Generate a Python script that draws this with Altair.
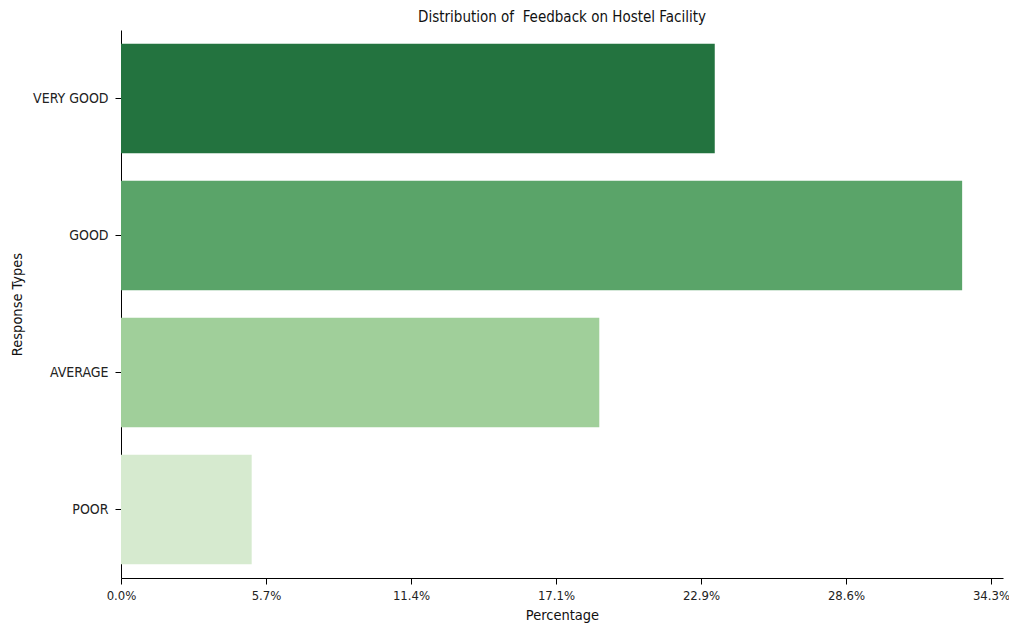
import altair as alt
import pandas as pd

categories = ["VERY GOOD", "GOOD", "AVERAGE", "POOR"]
percentages = [23.4, 33.15, 18.85, 5.15]
colors = ["#23733f", "#5aa469", "#a0cf9a", "#d6eacf"]
tick_values = [0, 5.714, 11.429, 17.143, 22.857, 28.571, 34.286]
title_text = "Distribution of \u00a0Feedback on Hostel Facility"

df = pd.DataFrame({"Response": categories, "Percentage": percentages})

FONT = "DejaVu Sans Condensed"

chart = alt.Chart(df).mark_bar().encode(
    y=alt.Y("Response:N", sort=categories, title="Response Types",
            scale=alt.Scale(paddingInner=0.2, paddingOuter=0.1),
            axis=alt.Axis(labelFont=FONT, labelFontSize=14, labelColor="#222222",
                          titleFont=FONT, titleFontSize=14.5, titleFontWeight="normal",
                          titleColor="#111111", titlePadding=8,
                          tickSize=6, tickColor="#000000", domainColor="#000000",
                          labelPadding=7, grid=False)),
    x=alt.X("Percentage:Q", title="Percentage",
            scale=alt.Scale(domain=[0, 34.76], nice=False),
            axis=alt.Axis(values=tick_values,
                          labelExpr="format(datum.value, '.1f') + '%'",
                          labelFont=FONT, labelFontSize=13, labelColor="#222222",
                          labelFlush=False,
                          titleFont=FONT, titleFontSize=14.5, titleFontWeight="normal",
                          titleColor="#111111", titlePadding=6,
                          tickSize=6, tickColor="#000000", domainColor="#000000",
                          labelPadding=5, grid=False)),
    color=alt.Color("Response:N", sort=categories,
                    scale=alt.Scale(domain=categories, range=colors), legend=None),
).properties(
    width=882,
    height=548,
    title=alt.TitleParams(title_text,
                          font=FONT, fontSize=15, fontWeight="normal",
                          color="#111111", anchor="middle", offset=5),
    autosize=alt.AutoSizeParams(type="none"),
    padding={"left": 113, "top": 22, "right": 6, "bottom": 46},
).configure_view(stroke=None)

chart.save("out.html", embed_options={"renderer": "svg", "actions": False})
